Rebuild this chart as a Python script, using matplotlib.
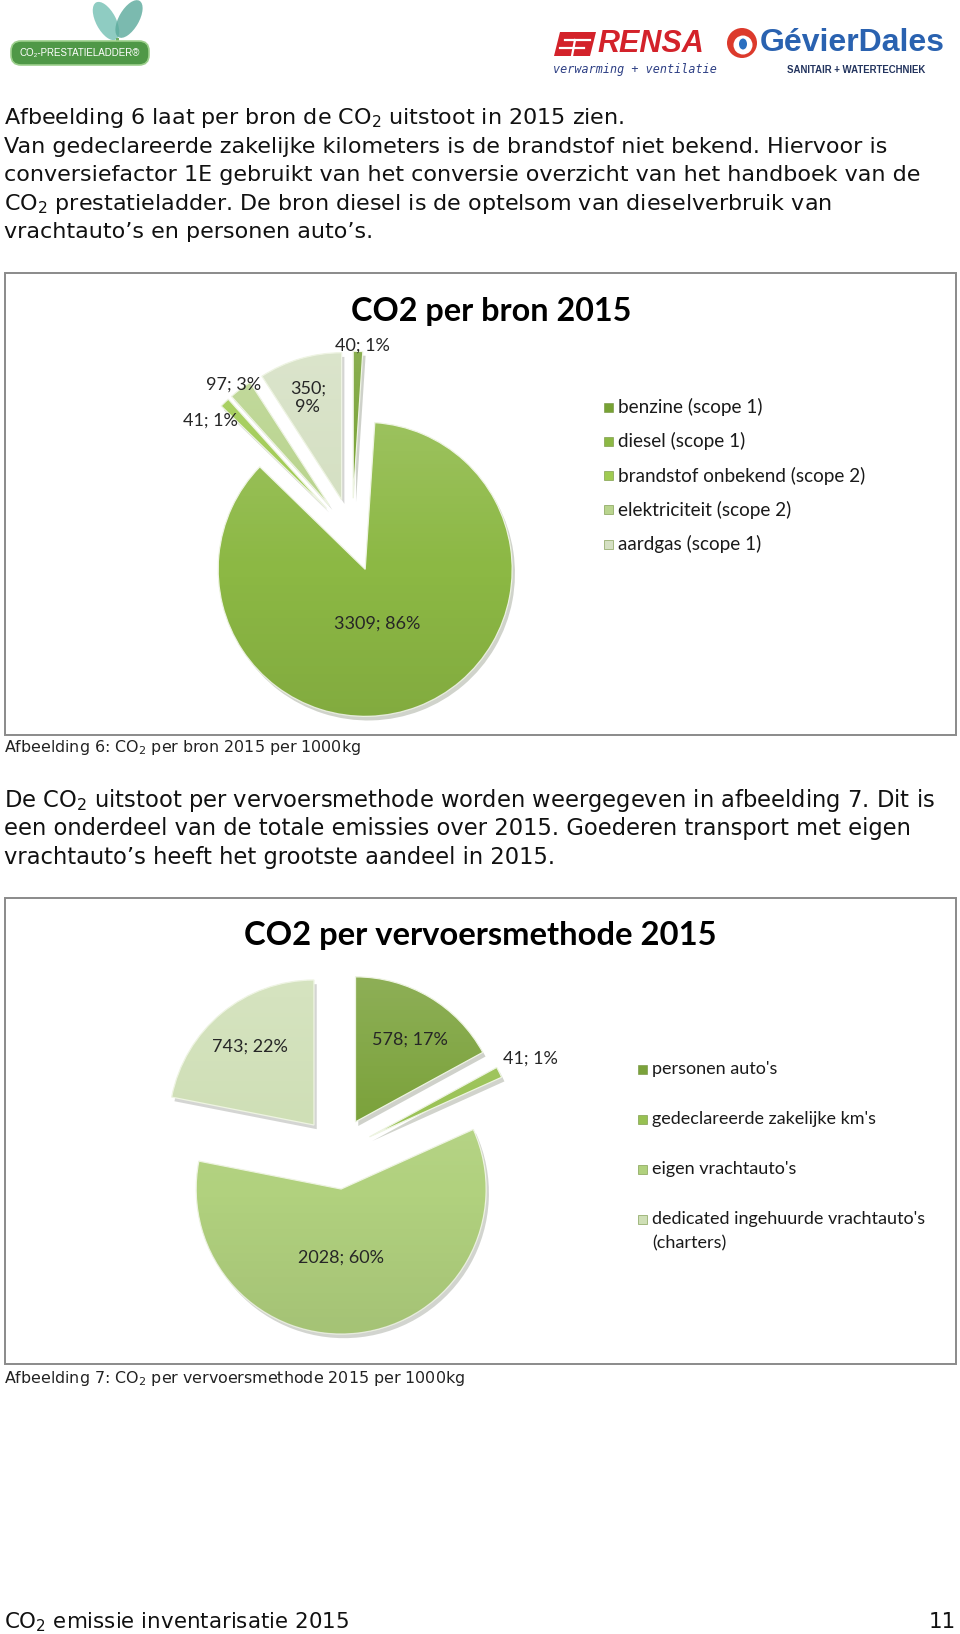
import matplotlib
matplotlib.use("Agg")
import matplotlib.pyplot as plt
import matplotlib.patheffects as pe
import numpy as np
from matplotlib.patches import Rectangle, FancyBboxPatch, Ellipse, Circle, Polygon

W, H = 960, 1634

# ── Data ────────────────────────────────────────────────────────────────────
intro_lines = [
    "Afbeelding 6 laat per bron de CO$_2$ uitstoot in 2015 zien.",
    "Van gedeclareerde zakelijke kilometers is de brandstof niet bekend. Hiervoor is",
    "conversiefactor 1E gebruikt van het conversie overzicht van het handboek van de",
    "CO$_2$ prestatieladder. De bron diesel is de optelsom van dieselverbruik van",
    "vrachtauto\u2019s en personen auto\u2019s.",
]
middle_lines = [
    "De CO$_2$ uitstoot per vervoersmethode worden weergegeven in afbeelding 7. Dit is",
    "een onderdeel van de totale emissies over 2015. Goederen transport met eigen",
    "vrachtauto\u2019s heeft het grootste aandeel in 2015.",
]

bron_title = "CO2 per bron 2015"
bron_names = ["benzine (scope 1)", "diesel (scope 1)", "brandstof onbekend (scope 2)",
              "elektriciteit (scope 2)", "aardgas (scope 1)"]
bron_values = [40, 3309, 41, 97, 350]
bron_colors = ["#77a234", "#8cb844", "#a0cb52", "#b9d48e", "#d5e0c3"]

vervoer_title = "CO2 per vervoersmethode 2015"
vervoer_names = ["personen auto's", "gedeclareerde zakelijke km's", "eigen vrachtauto's",
                 "dedicated ingehuurde vrachtauto's\n(charters)"]
vervoer_values = [578, 41, 2028, 743]
vervoer_colors = ["#7ba23b", "#98c152", "#b1d17e", "#cfdfb6"]

captions = ["Afbeelding 6: CO$_2$ per bron 2015 per 1000kg",
            "Afbeelding 7: CO$_2$ per vervoersmethode 2015 per 1000kg"]
footer = "CO$_2$ emissie inventarisatie 2015"
page_no = "11"

# label placement (radial factor, clockwise nudge in degrees, separator)
bron_lbl = [(1.04, 1.5, " "), (0.38, 9, " "), (0.99, -9, " "), (1.05, -1, " "), (0.73, -2, "\n")]
vervoer_lbl = [(0.68, 3, " "), (1.23, 0.6, " "), (0.47, 7, " "), (0.70, 0, " ")]

BODY = "DejaVu Sans"
CHART = ["Lato", "DejaVu Sans"]

fig = plt.figure(figsize=(W / 100, H / 100), dpi=100)
ax = fig.add_axes([0, 0, 1, 1])


def Y(y):
    return H - y


def put(x, y, s, **kw):
    kw.setdefault("va", "center")
    ax.text(x, Y(y), s, **kw)


# soft bevel: a bit lighter at the top, slightly darker at the bottom
_shade = np.zeros((64, 1, 4))
_t = np.linspace(0, 1, 64)
_shade[:, 0, :3] = np.where(_t < 0.5, 1.0, 0.0)[:, None]
_shade[:, 0, 3] = np.where(_t < 0.5, 0.14 * (1 - 2 * _t), 0.07 * (2 * _t - 1))


def draw_pie(values, colors, center, radius, lbl):
    cx, cy = center
    wedges, _ = ax.pie(values, colors=colors, explode=[0.25 * radius] * len(values),
                       radius=radius, center=(cx, Y(cy)), startangle=90, counterclock=False,
                       wedgeprops=dict(edgecolor="#eef4e2", linewidth=0.9,
                                       path_effects=[pe.SimplePatchShadow(offset=(2, -3),
                                                                          alpha=0.22),
                                                     pe.Normal()]))
    total = sum(values)
    for w, v, (f, dt, sep) in zip(wedges, values, lbl):
        wx, wy = w.center
        im = ax.imshow(_shade, extent=[wx - radius, wx + radius, wy - radius, wy + radius],
                       origin="upper", interpolation="bilinear", zorder=w.get_zorder() + 0.1)
        im.set_clip_path(w)
        mid = np.deg2rad((w.theta1 + w.theta2) / 2 - dt)
        pct = round(100 * v / total)
        ax.text(wx + f * radius * np.cos(mid), wy + f * radius * np.sin(mid),
                f"{v};{sep}{pct}%", ha="center", va="center", fontsize=13,
                family=CHART, color="#262626", linespacing=1.15, zorder=5)
    return wedges


def draw_legend(names, colors, x, y0, step, fs):
    for i, (name, c) in enumerate(zip(names, colors)):
        y = y0 + i * step
        ax.add_patch(Rectangle((x, Y(y) - 4.5), 9, 9, facecolor=c,
                               edgecolor="#6f8f3a", linewidth=0.4))
        for j, part in enumerate(name.split("\n")):
            put(x + 14, y + j * 24, part, fontsize=fs, family=CHART, color="#1a1a1a")


# ── Header logos ────────────────────────────────────────────────────────────
ax.add_patch(Ellipse((106, Y(21)), 20, 42, angle=28, facecolor="#7cc4b8", alpha=0.85, lw=0))
ax.add_patch(Ellipse((129, Y(19)), 20, 42, angle=-30, facecolor="#5aa99b", alpha=0.8, lw=0))
ax.add_patch(Rectangle((116, Y(42)), 3, 4, facecolor="#6fae62", lw=0))
ax.add_patch(FancyBboxPatch((12, Y(64)), 136, 22, boxstyle="round,pad=1,rounding_size=10",
                            facecolor="#4f9847", edgecolor="#9ccf8c", lw=1.2))
put(80, 53, "CO\u2082-PRESTATIELADDER\u00ae", ha="center", fontsize=7, color="white",
    family="Liberation Sans")

ax.add_patch(Polygon([(560, Y(32)), (596, Y(32)), (590, Y(56)), (554, Y(56))],
                     closed=True, facecolor="#d3222a", lw=0))
ax.plot([565, 590], [Y(40), Y(40)], color="white", lw=1.6)
ax.plot([560, 584], [Y(48), Y(48)], color="white", lw=1.6)
ax.plot([575, 572], [Y(40), Y(56)], color="white", lw=1.6)
put(597, 44, "RENSA", fontsize=22, fontweight="bold", style="italic", color="#d3222a",
    family="Liberation Sans")
put(553, 69, "verwarming + ventilatie", fontsize=8.5, style="italic", color="#2d3f84",
    family="DejaVu Sans Mono")
ax.add_patch(Circle((742, Y(43)), 15, facecolor="#dc3a2c", lw=0))
ax.add_patch(Circle((743, Y(45)), 9.5, facecolor="white", lw=0))
ax.add_patch(Ellipse((743, Y(44)), 8, 11, facecolor="#2a6fc0", lw=0))
put(760, 43, "GévierDales", fontsize=23, fontweight="bold", color="#2a62b0",
    family="Liberation Sans")
put(787, 70, "SANITAIR + WATERTECHNIEK", fontsize=6.9, fontweight="bold", color="#23345e",
    family="Liberation Sans")

# ── Body text ───────────────────────────────────────────────────────────────
for i, line in enumerate(intro_lines):
    put(4, 118 + i * 28.5, line, fontsize=16, family=BODY, color="#111111")
for i, line in enumerate(middle_lines):
    put(4, 800 + i * 28.5, line, fontsize=16.3, family=BODY, color="#111111")

# ── Chart 1 ─────────────────────────────────────────────────────────────────
ax.add_patch(Rectangle((5, Y(735)), 951, 462, facecolor="white", edgecolor="#8a8a8a", lw=1.4))
put(491, 311, bron_title, ha="center", fontsize=23.3, fontweight="bold", family=CHART)
draw_pie(bron_values, bron_colors, (352, 535), 147, bron_lbl)
draw_legend(bron_names, bron_colors, 604, 407, 34.3, 13.6)
put(4, 747, captions[0], fontsize=11.4, family=BODY, color="#222222")

# ── Chart 2 ─────────────────────────────────────────────────────────────────
ax.add_patch(Rectangle((5, Y(1364)), 951, 466, facecolor="white", edgecolor="#8a8a8a", lw=1.4))
put(480, 935, vervoer_title, ha="center", fontsize=23.6, fontweight="bold", family=CHART)
draw_pie(vervoer_values, vervoer_colors, (337, 1153), 145, vervoer_lbl)
draw_legend(vervoer_names, vervoer_colors, 638, 1069, 50, 13)
put(4, 1378, captions[1], fontsize=11.4, family=BODY, color="#222222")

# ── Footer ──────────────────────────────────────────────────────────────────
put(4, 1622, footer, fontsize=15.4, family=BODY, color="#111111")
put(956, 1622, page_no, ha="right", fontsize=15.4, family=BODY, color="#111111")

ax.set_xlim(0, W)
ax.set_ylim(0, H)
ax.set_aspect("auto")
ax.axis("off")
fig.savefig("out.png", dpi=100, facecolor="white")
